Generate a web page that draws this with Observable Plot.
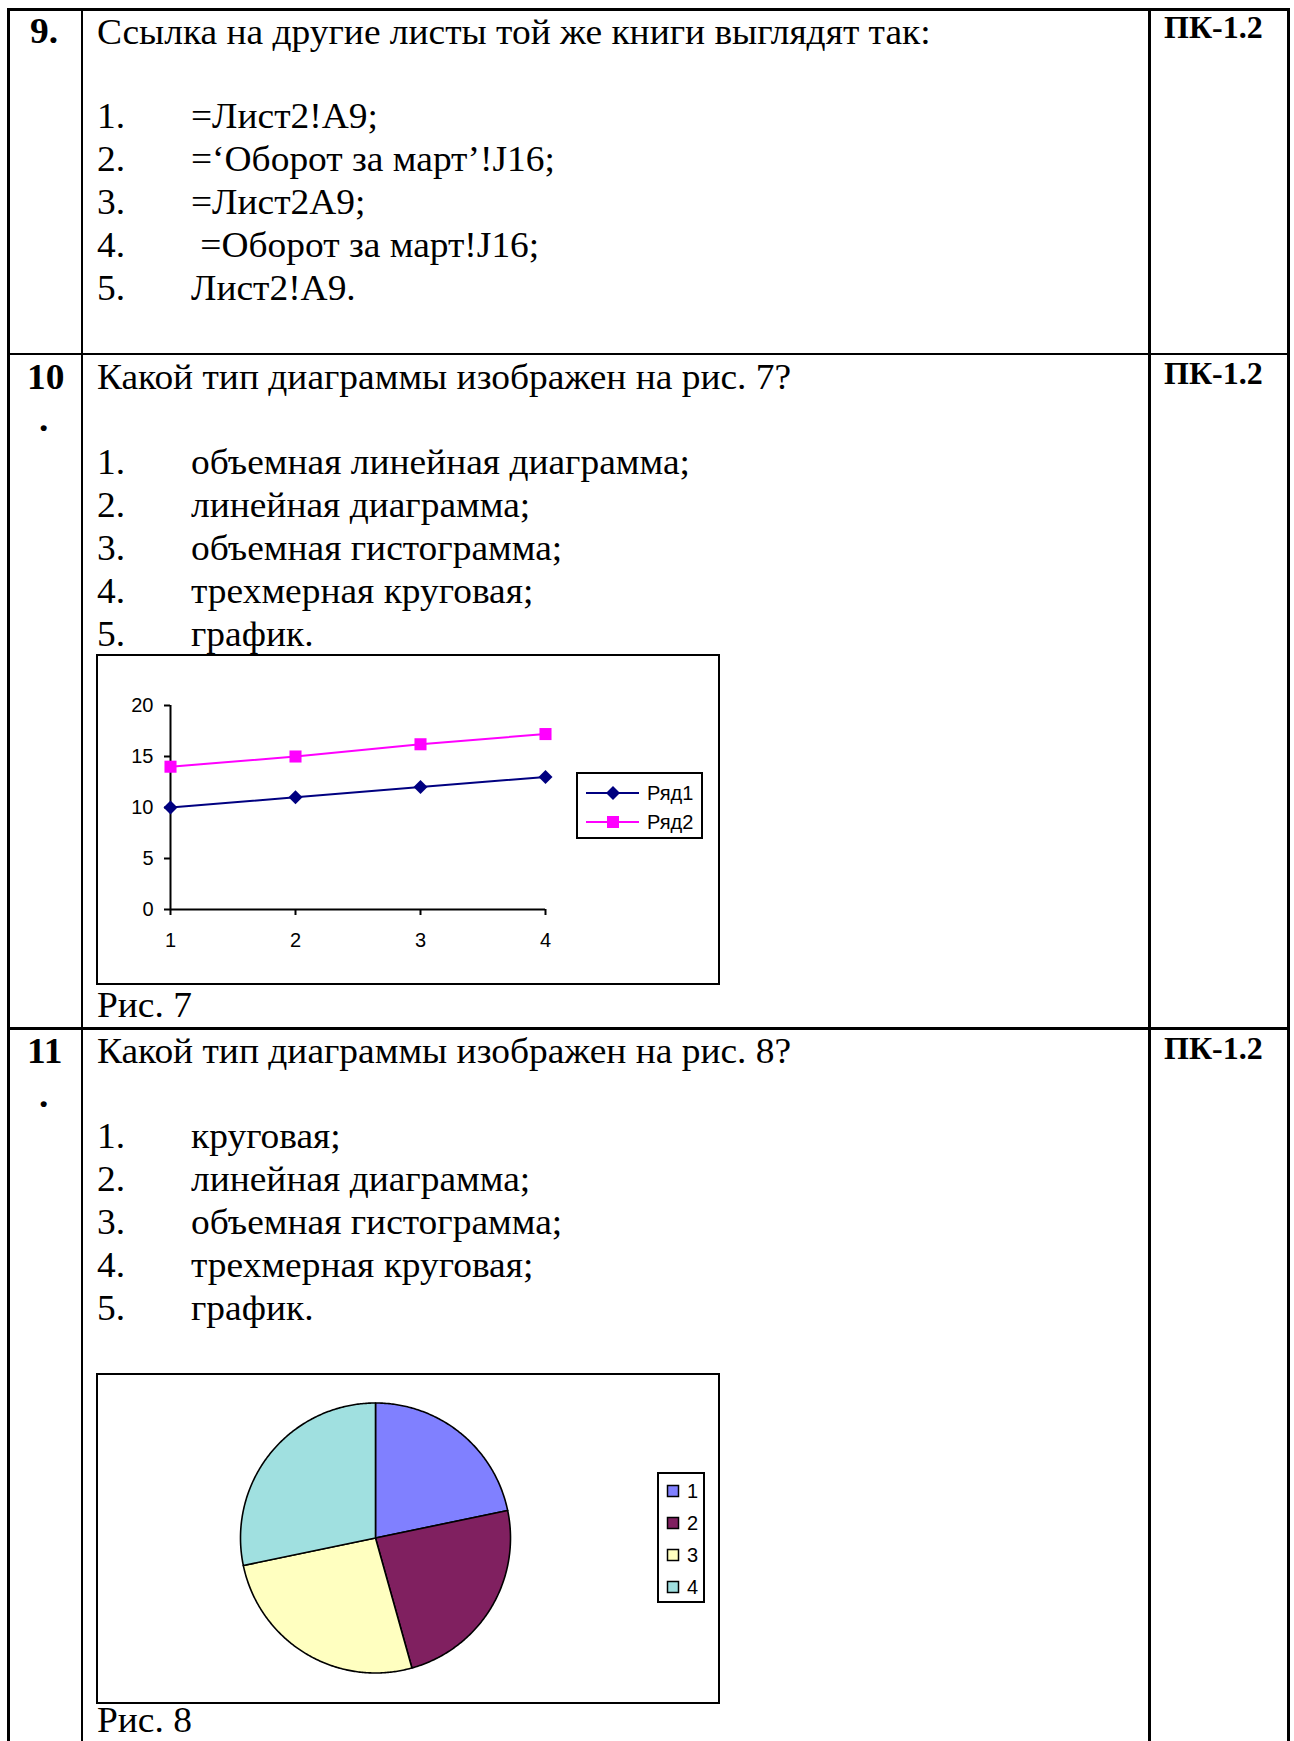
<!DOCTYPE html>
<html><head><meta charset="utf-8">
<script src="https://cdn.jsdelivr.net/npm/d3@7"></script>
<script src="https://cdn.jsdelivr.net/npm/@observablehq/plot@0.6"></script>
<style>
html,body{margin:0;padding:0;background:#fff;}
#page{position:relative;width:1294px;height:1741px;overflow:hidden;font-family:"Liberation Serif","Times New Roman",serif;color:#000;background:#fff;}
.t{position:absolute;font-size:36px;line-height:30px;white-space:pre;transform:scaleX(1.04);transform-origin:0 0;}
.k{position:absolute;font-size:32px;line-height:32px;white-space:pre;font-weight:bold;}
.b{font-weight:bold;}
.ln{position:absolute;background:#000;}
.frame{position:absolute;border:2px solid #000;box-sizing:border-box;pointer-events:none;}
.chart{position:absolute;}
</style></head><body><div id="page"></div>
<script>
// ---- chart data ----
const categories = [1, 2, 3, 4];
const seriesNames = ["Ряд1", "Ряд2"];
const series1 = [10, 11, 12, 13];
const series2 = [14, 15, 16.2, 17.2];
const yTicks = [0, 5, 10, 15, 20];
const pieLabels = ["1", "2", "3", "4"];
const pieValues = [10, 11, 12, 13];

// ---- document text ----
const q9Title = "Ссылка на другие листы той же книги выглядят так:";
const q9Options = ["=Лист2!A9;", "=‘Оборот за март’!J16;", "=Лист2A9;", " =Оборот за март!J16;", "Лист2!A9."];
const q10Title = "Какой тип диаграммы изображен на рис. 7?";
const q10Options = ["объемная линейная диаграмма;", "линейная диаграмма;", "объемная гистограмма;", "трехмерная круговая;", "график."];
const q11Title = "Какой тип диаграммы изображен на рис. 8?";
const q11Options = ["круговая;", "линейная диаграмма;", "объемная гистограмма;", "трехмерная круговая;", "график."];
const competence = "ПК-1.2";

const lineColors = ["#000080", "#ff00ff"];
const pieColors = ["#8080ff", "#802060", "#ffffc0", "#a0e0e0"];

const page = document.getElementById("page");
function text(str, x, baseline, bold) {
  const d = document.createElement("div");
  d.className = "t" + (bold ? " b" : "");
  d.textContent = str;
  d.style.left = x + "px";
  d.style.top = (baseline - 27.15) + "px";
  page.appendChild(d);
}
function code(str, x, baseline) {
  const d = document.createElement("div");
  d.className = "k";
  d.textContent = str;
  d.style.left = x + "px";
  d.style.top = (baseline - 26.8) + "px";
  page.appendChild(d);
}
function rule(l, t, w, h) {
  const d = document.createElement("div");
  d.className = "ln";
  Object.assign(d.style, {left: l + "px", top: t + "px", width: w + "px", height: h + "px"});
  page.appendChild(d);
}
function box(l, t, w, h) {
  const d = document.createElement("div");
  d.className = "frame";
  Object.assign(d.style, {left: l + "px", top: t + "px", width: w + "px", height: h + "px"});
  page.appendChild(d);
}

// table lines
rule(7, 8.3, 1283, 2.7);
rule(7, 8.3, 2.6, 1740);
rule(80.9, 8.3, 2.5, 1740);
rule(1148.3, 8.3, 2.5, 1740);
rule(1287.4, 8.3, 2.6, 1740);
rule(7, 352.7, 1283, 2.6);
rule(7, 1027.3, 1283, 2.6);

// row 9
text("9.", 30, 43, true);
text(q9Title, 97, 44);
code(competence, 1164, 38);
const b9 = [128, 171.5, 214, 257, 300.5];
q9Options.forEach((o, i) => { text((i + 1) + ".", 97, b9[i]); text(o, 191, b9[i]); });

// row 10
text("10", 27, 389, true);
text(".", 39, 431, true);
text(q10Title, 97, 389);
code(competence, 1164, 384);
const b10 = [474, 517, 560, 603, 646];
q10Options.forEach((o, i) => { text((i + 1) + ".", 97, b10[i]); text(o, 191, b10[i]); });
text("Рис. 7", 97, 1017);

// row 11
text("11", 27, 1063, true);
text(".", 39, 1107, true);
text(q11Title, 97, 1063);
code(competence, 1164, 1059);
const b11 = [1148, 1191.5, 1234, 1277, 1320.5];
q11Options.forEach((o, i) => { text((i + 1) + ".", 97, b11[i]); text(o, 191, b11[i]); });
text("Рис. 8", 97, 1732);

// ---- Fig. 7: line chart ----
const lineData = categories.flatMap((c, i) => [
  {x: c, y: series1[i], s: seriesNames[0]},
  {x: c, y: series2[i], s: seriesNames[1]}
]);
const chart1 = Plot.plot({
  width: 622, height: 329,
  marginLeft: 73, marginRight: 174, marginTop: 50, marginBottom: 75,
  style: {fontFamily: "'Liberation Sans', Arial, sans-serif", fontSize: "20px", color: "#000", background: "transparent", overflow: "visible"},
  x: {domain: [1, 4]},
  y: {domain: [0, 20]},
  color: {domain: seriesNames, range: lineColors},
  marks: [
    Plot.ruleX([1], {y1: 0, y2: 20, stroke: "#000", strokeWidth: 2}),
    Plot.ruleY([0], {x1: 1, x2: 4, stroke: "#000", strokeWidth: 2}),
    Plot.axisY({ticks: yTicks, tickSize: 6, tickPadding: 11, label: null, strokeWidth: 2}),
    Plot.axisX({ticks: categories, tickSize: 6, tickPadding: 17, label: null, strokeWidth: 2, tickFormat: d => String(d)}),
    Plot.line(lineData, {x: "x", y: "y", z: "s", stroke: "s", strokeWidth: 2}),
    Plot.dot(lineData.filter(d => d.s === seriesNames[0]), {x: "x", y: "y", symbol: "diamond2", r: 6.3, fill: "s"}),
    Plot.dot(lineData.filter(d => d.s === seriesNames[1]), {x: "x", y: "y", symbol: "square", r: 6.8, fill: "s"})
  ]
});
chart1.classList.add("chart");
chart1.style.left = "97px"; chart1.style.top = "655px";
page.appendChild(chart1);
box(96, 654, 624, 331);

// legend for Fig. 7
const ns = "http://www.w3.org/2000/svg";
function legend1() {
  const svg = document.createElementNS(ns, "svg");
  svg.setAttribute("width", 127); svg.setAttribute("height", 67);
  Object.assign(svg.style, {position: "absolute", left: "576px", top: "772px", fontFamily: "'Liberation Sans', Arial, sans-serif", fontSize: "20px"});
  svg.innerHTML = `<rect x="1" y="1" width="125" height="65" fill="#fff" stroke="#000" stroke-width="2"/>` +
    seriesNames.map((n, i) => {
      const y = 21 + i * 29, c = lineColors[i];
      const m = i === 0
        ? `<path d="M37,${y - 7}L44,${y}L37,${y + 7}L30,${y}Z" fill="${c}"/>`
        : `<rect x="31" y="${y - 6}" width="12" height="12" fill="${c}"/>`;
      return `<line x1="10" x2="63" y1="${y}" y2="${y}" stroke="${c}" stroke-width="2"/>${m}` +
        `<text x="71" y="${y}" dy="0.36em">${n}</text>`;
    }).join("");
  page.appendChild(svg);
}
legend1();

// ---- Fig. 8: pie chart ----
const arcs = d3.pie().sort(null).value(d => d)(pieValues);
const pieData = arcs.flatMap((a, i) => {
  const pts = [{x: 0, y: 0, k: pieLabels[i]}];
  const n = Math.ceil((a.endAngle - a.startAngle) / 0.01);
  for (let j = 0; j <= n; j++) {
    const t = a.startAngle + (a.endAngle - a.startAngle) * j / n;
    pts.push({x: Math.sin(t), y: Math.cos(t), k: pieLabels[i]});
  }
  return pts;
});
const chart2 = Plot.plot({
  width: 622, height: 329,
  marginLeft: 143, marginRight: 209, marginTop: 28.5, marginBottom: 30.5,
  style: {background: "transparent", overflow: "visible"},
  x: {domain: [-1, 1], axis: null},
  y: {domain: [-1, 1], axis: null},
  color: {domain: pieLabels, range: pieColors},
  marks: [
    Plot.line(pieData, {x: "x", y: "y", z: "k", fill: "k", stroke: "#000", strokeWidth: 1.6, curve: "linear-closed"})
  ]
});
chart2.classList.add("chart");
chart2.style.left = "97px"; chart2.style.top = "1374px";
page.appendChild(chart2);
box(96, 1373, 624, 331);

function legend2() {
  const svg = document.createElementNS(ns, "svg");
  svg.setAttribute("width", 48); svg.setAttribute("height", 131);
  Object.assign(svg.style, {position: "absolute", left: "657px", top: "1472px", fontFamily: "'Liberation Sans', Arial, sans-serif", fontSize: "20px"});
  svg.innerHTML = `<rect x="1" y="1" width="46" height="129" fill="#fff" stroke="#000" stroke-width="2"/>` +
    pieLabels.map((n, i) => {
      const y = 19 + i * 32;
      return `<rect x="10.5" y="${y - 5.5}" width="11" height="11" fill="${pieColors[i]}" stroke="#000" stroke-width="1.5"/>` +
        `<text x="30" y="${y}" dy="0.36em">${n}</text>`;
    }).join("");
  page.appendChild(svg);
}
legend2();
</script></body></html>
